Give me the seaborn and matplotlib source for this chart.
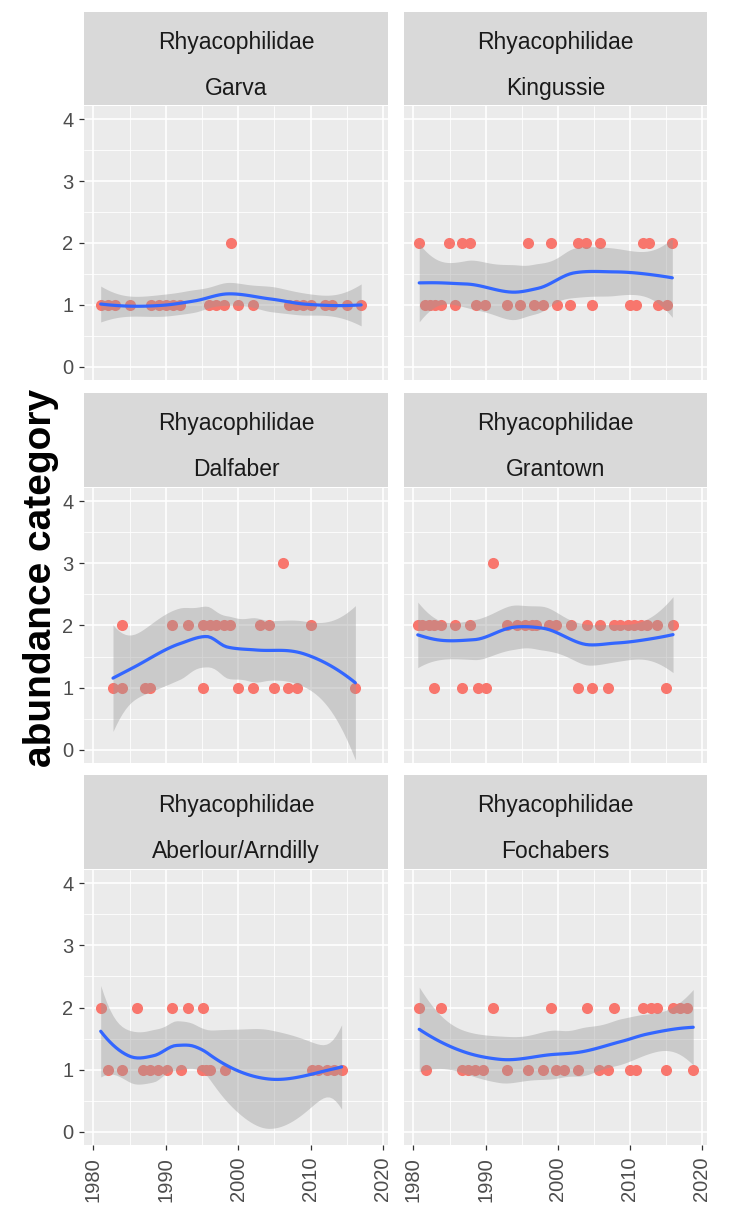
import numpy as np
import pandas as pd
import matplotlib
matplotlib.use("Agg")
import matplotlib.pyplot as plt
from matplotlib.patches import Rectangle
import seaborn as sns

# ---- data -------------------------------------------------------------
family = "Rhyacophilidae"
sites = ["Garva", "Kingussie", "Dalfaber", "Grantown", "Aberlour/Arndilly", "Fochabers"]

garva_year = [1981, 1982, 1983, 1985, 1988, 1989, 1990, 1991, 1992, 1996, 1997, 1998,
              1999, 2000, 2002, 2007, 2008, 2009, 2010, 2012, 2013, 2015, 2017]
garva_abund = [1, 1, 1, 1, 1, 1, 1, 1, 1, 1, 1, 1,
               2, 1, 1, 1, 1, 1, 1, 1, 1, 1, 1]

kingussie_year = [1980.8, 1984.9, 1986.7, 1987.9, 1995.9, 1999.1, 2002.8, 2003.9, 2005.9,
                  2011.9, 2012.6, 2015.9,
                  1981.6, 1982.3, 1983.0, 1983.8, 1985.7, 1988.7, 1989.9, 1993.0, 1994.8,
                  1996.7, 1997.9, 1999.9, 2001.7, 2004.7, 2010.0, 2010.9, 2013.9, 2015.1]
kingussie_abund = [2] * 12 + [1] * 18

dalfaber_year = [1982.7, 1983.9, 1987.1, 1987.8, 1995.2, 2000.0, 2002.0, 2005.0, 2006.9,
                 2008.1, 2016.2,
                 1984.0, 1990.9, 1993.1, 1995.2, 1996.1, 1997.0, 1998.0, 1998.9, 2003.0,
                 2004.2, 2010.1,
                 2006.2]
dalfaber_abund = [1] * 11 + [2] * 11 + [3]

grantown_year = [1980.6, 1981.2, 1982.1, 1982.9, 1983.8, 1985.7, 1987.9, 1993.0, 1994.4,
                 1995.5, 1996.4, 1997.0, 1998.8, 1999.8, 2001.8, 2004.0, 2005.9, 2007.8,
                 2008.7, 2009.7, 2010.6, 2011.5, 2012.4, 2013.8, 2016.0,
                 1982.8, 1986.8, 1988.9, 1990.0, 2002.8, 2004.7, 2007.0, 2015.0,
                 1991.0]
grantown_abund = [2] * 25 + [1] * 8 + [3]

aberlour_year = [1981.0, 1986.0, 1990.9, 1993.1, 1995.2,
                 1982.0, 1984.0, 1986.9, 1987.8, 1988.9, 1990.1, 1992.1, 1995.0, 1995.5,
                 1996.1, 1998.2, 2010.2, 2011.1, 2012.3, 2013.2, 2014.3]
aberlour_abund = [2] * 5 + [1] * 16

fochabers_year = [1980.8, 1983.8, 1991.0, 1999.1, 2004.0, 2007.8, 2011.9, 2012.9, 2013.8,
                  2016.0, 2017.0, 2018.0,
                  1981.8, 1986.7, 1987.6, 1988.5, 1989.7, 1993.0, 1995.9, 1997.9, 1999.8,
                  2000.9, 2002.8, 2005.7, 2007.0, 2010.0, 2010.9, 2015.0, 2018.8]
fochabers_abund = [2] * 12 + [1] * 17

site_years = [garva_year, kingussie_year, dalfaber_year, grantown_year, aberlour_year, fochabers_year]
site_abund = [garva_abund, kingussie_abund, dalfaber_abund, grantown_abund, aberlour_abund, fochabers_abund]

x_ticks = [1980, 1990, 2000, 2010, 2020]
y_ticks = [0, 1, 2, 3, 4]

frames = []
for s, yr, ab in zip(sites, site_years, site_abund):
    frames.append(pd.DataFrame({"site": s, "year": yr, "abundance": ab}))
df = pd.concat(frames, ignore_index=True)


# ---- loess smoother (degree 2, span 0.75, kd-tree vertex interpolation) --
def t_quantile(df_):
    z = 1.959963985
    g1 = (z ** 3 + z) / 4
    g2 = (5 * z ** 5 + 16 * z ** 3 + 3 * z) / 96
    g3 = (3 * z ** 7 + 19 * z ** 5 + 17 * z ** 3 - 15 * z) / 384
    return z + g1 / df_ + g2 / df_ ** 2 + g3 / df_ ** 3


def loess_band(x, y, xs, span=0.75, cell=0.2):
    x = np.asarray(x, float)
    y = np.asarray(y, float)
    n = len(x)
    q = int(np.floor(n * span))

    def local(x0):
        d = np.abs(x - x0)
        h = np.sort(d)[q - 1]
        u = np.clip(d / h, 0, 1)
        w = (1 - u ** 3) ** 3
        X = np.column_stack([np.ones(n), x - x0, (x - x0) ** 2])
        XtW = X.T * w
        sol = np.linalg.solve(XtW @ X, XtW)
        return sol[0], sol[1]          # operator rows for value and slope

    # vertices of the kd tree
    xsort = np.sort(x)
    lo, hi = xsort[0], xsort[-1]
    mu = 0.005 * (hi - lo)
    verts = {lo - mu, hi + mu}
    fc = int(np.floor(n * span * cell))

    def split(pts):
        if len(pts) <= fc:
            return
        m = (1 + len(pts)) // 2
        if m >= len(pts):
            return
        v = (pts[m - 1] + pts[m]) / 2
        verts.add(v)
        split(pts[:m])
        split(pts[m:])

    split(xsort)
    vx = np.array(sorted(verts))
    vrows = [local(v) for v in vx]

    def interp_row(x0):
        k = np.searchsorted(vx, x0, side="right") - 1
        k = min(max(k, 0), len(vx) - 2)
        a, b = vx[k], vx[k + 1]
        hh = b - a
        t = (x0 - a) / hh
        h00 = 2 * t ** 3 - 3 * t ** 2 + 1
        h10 = t ** 3 - 2 * t ** 2 + t
        h01 = -2 * t ** 3 + 3 * t ** 2
        h11 = t ** 3 - t ** 2
        la, ga = vrows[k]
        lb, gb = vrows[k + 1]
        return h00 * la + h10 * hh * ga + h01 * lb + h11 * hh * gb

    L = np.array([interp_row(v) for v in x])
    res = y - L @ y
    M = np.eye(n) - L
    MM = M.T @ M
    d1 = np.trace(MM)
    d2 = np.trace(MM @ MM)
    sigma = np.sqrt(res @ res / d1)
    tq = t_quantile(d1 ** 2 / d2)
    Ls = np.array([interp_row(v) for v in xs])
    fit = Ls @ y
    se = sigma * np.sqrt((Ls ** 2).sum(axis=1))
    return fit, fit - tq * se, fit + tq * se


# ---- styling ----------------------------------------------------------
sns.set_theme(style="darkgrid", rc={
    "axes.facecolor": "#EBEBEB",
    "grid.color": "white",
    "axes.edgecolor": "#EBEBEB",
})
plt.rcParams["font.family"] = ["Liberation Sans", "DejaVu Sans"]

W, H = 732, 1211
fig = plt.figure(figsize=(W / 100, H / 100), dpi=100)
fig.patch.set_facecolor("white")

col_px = [(84, 388), (404, 707)]
row_px = [(12, 105, 106, 380), (393, 487, 488, 763), (775, 869, 870, 1145)]

xmin_all, xmax_all = df["year"].min(), df["year"].max()
xr = xmax_all - xmin_all
xlim = (xmin_all - 0.05 * xr, xmax_all + 0.05 * xr)
ylim = (-0.21, 4.21)

for i, site in enumerate(sites):
    r, c = divmod(i, 2)
    x0, x1 = col_px[c]
    st, sb, pt, pb = row_px[r]
    ax = fig.add_axes([x0 / W, 1 - pb / H, (x1 - x0) / W, (pb - pt) / H])
    sub = df[df["site"] == site]

    sns.scatterplot(data=sub, x="year", y="abundance", color="#F8766D", s=64,
                    linewidth=0, ax=ax, zorder=2, legend=False)

    xs = np.linspace(sub["year"].min(), sub["year"].max(), 80)
    fit, lo, hi = loess_band(sub["year"].values, sub["abundance"].values, xs)
    ax.fill_between(xs, lo, hi, color="#999999", alpha=0.4, linewidth=0, zorder=3)
    sns.lineplot(x=xs, y=fit, color="#3366FF", linewidth=2.3, ax=ax, zorder=4)

    ax.set_xlim(*xlim)
    ax.set_ylim(*ylim)
    ax.set_xticks(x_ticks)
    ax.set_yticks(y_ticks)
    ax.set_xticks([1985, 1995, 2005, 2015], minor=True)
    ax.set_yticks([0.5, 1.5, 2.5, 3.5], minor=True)
    ax.grid(which="major", color="white", linewidth=1.2)
    ax.grid(which="minor", color="white", linewidth=0.6)
    ax.set_xlabel("")
    ax.set_ylabel("")
    for sp in ax.spines.values():
        sp.set_visible(False)

    ax.tick_params(which="minor", length=0)
    ax.tick_params(which="major", direction="out", length=3.6, width=0.9,
                   color="#333333", labelcolor="#4D4D4D", labelsize=14.5)
    ax.tick_params(axis="y", pad=4, left=(c == 0), labelleft=(c == 0))
    ax.tick_params(axis="x", pad=5, bottom=(r == 2), labelbottom=(r == 2))
    if r == 2:
        ax.set_xticklabels([str(v) for v in x_ticks], rotation=90, va="top", ha="center")

    # facet strip
    fig.patches.append(Rectangle((x0 / W, 1 - sb / H), (x1 - x0) / W, (sb - st) / H,
                                 transform=fig.transFigure, facecolor="#D9D9D9",
                                 edgecolor="none", zorder=0))
    cx = (x0 + x1) / 2 / W
    fig.text(cx, 1 - (st + 37) / H, family, ha="center", va="baseline",
             fontsize=16.5, color="#1A1A1A")
    fig.text(cx, 1 - (st + 83) / H, site, ha="center", va="baseline",
             fontsize=16.5, color="#1A1A1A")

fig.text(41 / W, 1 - 578 / H, "abundance category", rotation=90, ha="center",
         va="center", fontsize=28, fontweight="bold", color="black")

fig.savefig("out.png", dpi=100, facecolor="white")
